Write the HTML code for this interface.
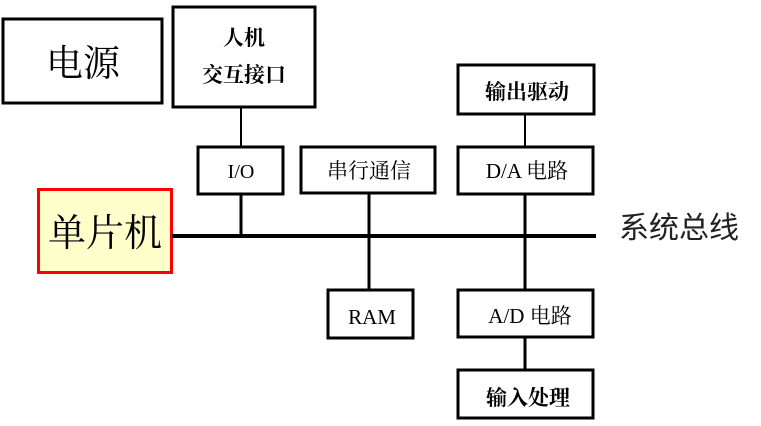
<!DOCTYPE html>
<html><head><meta charset="utf-8"><style>html,body{margin:0;padding:0;background:#fff}svg{display:block}</style></head>
<body>
<svg width="761" height="426" viewBox="0 0 761 426" xmlns="http://www.w3.org/2000/svg">
<g fill="none" stroke="#000" stroke-width="3">
<rect x="3" y="19" width="159" height="84" fill="#fff"/>
<rect x="173" y="7" width="142" height="100"/>
<rect x="198" y="147" width="85" height="47"/>
<rect x="301" y="147" width="134" height="46"/>
<rect x="458" y="65" width="136" height="49"/>
<rect x="458" y="147" width="135" height="47"/>
<rect x="328" y="290" width="85" height="48"/>
<rect x="458" y="290" width="135" height="47"/>
<rect x="458" y="370" width="135" height="48"/>
</g>
<rect x="38.5" y="189.5" width="133" height="83" fill="#ffffcc" stroke="#ff0000" stroke-width="3"/>
<g stroke="#000">
<line x1="172" y1="236" x2="596" y2="236" stroke-width="4"/>
<line x1="241" y1="107" x2="241" y2="147" stroke-width="2"/>
<line x1="241" y1="194" x2="241" y2="236" stroke-width="3"/>
<line x1="369" y1="193" x2="369" y2="290" stroke-width="3"/>
<line x1="525" y1="114" x2="525" y2="147" stroke-width="2"/>
<line x1="525" y1="194" x2="525" y2="290" stroke-width="3"/>
<line x1="525" y1="337" x2="525" y2="370" stroke-width="3"/>
</g>
<g font-family="Liberation Serif, Noto Serif CJK SC, serif" fill="#000" text-anchor="middle">
<text x="83" y="76" font-size="37">电源</text>
<text x="105" y="246" font-size="38">单片机</text>
<text x="244" y="45" font-size="21" font-weight="bold">人机</text>
<text x="244" y="82" font-size="21" font-weight="bold">交互接口</text>
<text x="241" y="178" font-size="20">I/O</text>
<text x="369" y="178" font-size="21">串行通信</text>
<text x="527" y="99" font-size="21" font-weight="bold">输出驱动</text>
<text x="527" y="178" font-size="21">D/A 电路</text>
<text x="372" y="324" font-size="21">RAM</text>
<text x="530" y="323" font-size="21">A/D 电路</text>
<text x="528" y="405" font-size="21" font-weight="bold">输入处理</text>
<text x="679" y="238" font-size="30" font-family="Noto Sans CJK SC, sans-serif" fill="#222">系统总线</text>
</g>
</svg>
</body></html>
